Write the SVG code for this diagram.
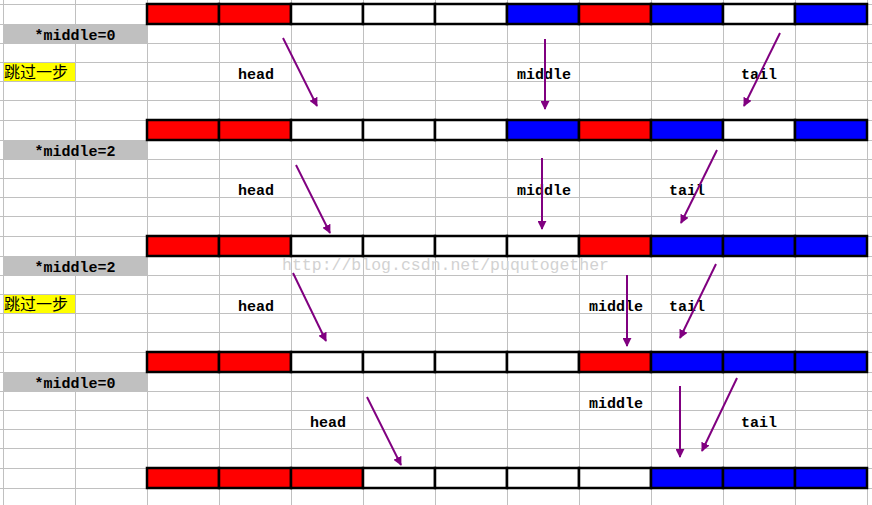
<svg xmlns="http://www.w3.org/2000/svg" width="872" height="505" viewBox="0 0 872 505">
<style>
.g{stroke:#c0c0c0;stroke-width:1}
.c{stroke:#000;stroke-width:2.5}
.r{fill:#ff0000}.b{fill:#0000ff}.w{fill:#fff}
.t{font-family:"Liberation Mono",monospace;font-weight:bold;font-size:15px;fill:#000;text-anchor:middle}
.lab{fill:#c0c0c0}
.y{fill:#ffff00}
.cjk{font-family:"Noto Sans CJK SC",sans-serif;font-size:16px;fill:#000}
.a{stroke:#800080;stroke-width:2;fill:none;marker-end:url(#ah)}
.wm{font-family:"Liberation Mono",monospace;font-size:16.5px;fill:#d2d2d2}
</style>
<defs>
<marker id="ah" viewBox="0 0 10 10" refX="9" refY="5" markerWidth="4.5" markerHeight="4.5" orient="auto" markerUnits="strokeWidth">
<path d="M0,0 L10,5 L0,10 z" fill="#800080"/>
</marker>
</defs>
<rect width="872" height="505" fill="#fff"/>
<g id="grid">
<path class="g" d="M3.5,0V505M75.5,0V505M147.5,0V505M219.5,0V505M291.5,0V505M363.5,0V505M435.5,0V505M507.5,0V505M579.5,0V505M651.5,0V505M723.5,0V505M795.5,0V505M867.5,0V505"/>
<path class="g" d="M0,4.5H872M0,24.5H872M0,43.5H872M0,62.5H872M0,81.5H872M0,100.5H872M0,120.5H872M0,140.5H872M0,159.5H872M0,178.5H872M0,197.5H872M0,216.5H872M0,236.5H872M0,256.5H872M0,275.5H872M0,294.5H872M0,313.5H872M0,332.5H872M0,352.5H872M0,372.5H872M0,391.5H872M0,410.5H872M0,429.5H872M0,448.5H872M0,468.5H872M0,488.5H872"/>
</g>
<g id="labels">
<rect class="lab" x="4" y="25" width="143" height="18"/>
<text class="t" x="75" y="40">*middle=0</text>
<rect class="y" x="4" y="63" width="71" height="18"/>
<text class="cjk" x="4" y="78">跳过一步</text>
<rect class="lab" x="4" y="141" width="143" height="18"/>
<text class="t" x="75" y="156">*middle=2</text>
<rect class="lab" x="4" y="257" width="143" height="18"/>
<text class="t" x="75" y="272">*middle=2</text>
<rect class="y" x="4" y="295" width="71" height="18"/>
<text class="cjk" x="4" y="310">跳过一步</text>
<rect class="lab" x="4" y="373" width="143" height="18"/>
<text class="t" x="75" y="388">*middle=0</text>
</g>
<g id="row1">
<rect class="c r" x="147" y="4" width="72" height="20"/><rect class="c r" x="219" y="4" width="72" height="20"/><rect class="c w" x="291" y="4" width="72" height="20"/><rect class="c w" x="363" y="4" width="72" height="20"/><rect class="c w" x="435" y="4" width="72" height="20"/><rect class="c b" x="507" y="4" width="72" height="20"/><rect class="c r" x="579" y="4" width="72" height="20"/><rect class="c b" x="651" y="4" width="72" height="20"/><rect class="c w" x="723" y="4" width="72" height="20"/><rect class="c b" x="795" y="4" width="72" height="20"/>
</g>
<g id="row2">
<rect class="c r" x="147" y="120" width="72" height="20"/><rect class="c r" x="219" y="120" width="72" height="20"/><rect class="c w" x="291" y="120" width="72" height="20"/><rect class="c w" x="363" y="120" width="72" height="20"/><rect class="c w" x="435" y="120" width="72" height="20"/><rect class="c b" x="507" y="120" width="72" height="20"/><rect class="c r" x="579" y="120" width="72" height="20"/><rect class="c b" x="651" y="120" width="72" height="20"/><rect class="c w" x="723" y="120" width="72" height="20"/><rect class="c b" x="795" y="120" width="72" height="20"/>
</g>
<g id="row3">
<rect class="c r" x="147" y="236" width="72" height="20"/><rect class="c r" x="219" y="236" width="72" height="20"/><rect class="c w" x="291" y="236" width="72" height="20"/><rect class="c w" x="363" y="236" width="72" height="20"/><rect class="c w" x="435" y="236" width="72" height="20"/><rect class="c w" x="507" y="236" width="72" height="20"/><rect class="c r" x="579" y="236" width="72" height="20"/><rect class="c b" x="651" y="236" width="72" height="20"/><rect class="c b" x="723" y="236" width="72" height="20"/><rect class="c b" x="795" y="236" width="72" height="20"/>
</g>
<g id="row4">
<rect class="c r" x="147" y="352" width="72" height="20"/><rect class="c r" x="219" y="352" width="72" height="20"/><rect class="c w" x="291" y="352" width="72" height="20"/><rect class="c w" x="363" y="352" width="72" height="20"/><rect class="c w" x="435" y="352" width="72" height="20"/><rect class="c w" x="507" y="352" width="72" height="20"/><rect class="c r" x="579" y="352" width="72" height="20"/><rect class="c b" x="651" y="352" width="72" height="20"/><rect class="c b" x="723" y="352" width="72" height="20"/><rect class="c b" x="795" y="352" width="72" height="20"/>
</g>
<g id="row5">
<rect class="c r" x="147" y="468" width="72" height="20"/><rect class="c r" x="219" y="468" width="72" height="20"/><rect class="c r" x="291" y="468" width="72" height="20"/><rect class="c w" x="363" y="468" width="72" height="20"/><rect class="c w" x="435" y="468" width="72" height="20"/><rect class="c w" x="507" y="468" width="72" height="20"/><rect class="c w" x="579" y="468" width="72" height="20"/><rect class="c b" x="651" y="468" width="72" height="20"/><rect class="c b" x="723" y="468" width="72" height="20"/><rect class="c b" x="795" y="468" width="72" height="20"/>
</g>
<text class="wm" x="282" y="270" textLength="327" lengthAdjust="spacingAndGlyphs">http://blog.csdn.net/puqutogether</text>
<g id="pointer-labels">
<text class="t" x="256" y="79">head</text>
<text class="t" x="544" y="79">middle</text>
<text class="t" x="759" y="79">tail</text>
<text class="t" x="256" y="195">head</text>
<text class="t" x="544" y="195">middle</text>
<text class="t" x="687" y="195">tail</text>
<text class="t" x="256" y="311">head</text>
<text class="t" x="616" y="311">middle</text>
<text class="t" x="687" y="311">tail</text>
<text class="t" x="328" y="427">head</text>
<text class="t" x="616" y="408">middle</text>
<text class="t" x="759" y="427">tail</text>
</g>
<g id="connectors">
<line class="a" x1="283" y1="38" x2="317" y2="106"/>
<line class="a" x1="545" y1="39" x2="545" y2="109"/>
<line class="a" x1="780" y1="33" x2="744" y2="106"/>
<line class="a" x1="296" y1="165" x2="330" y2="233"/>
<line class="a" x1="542" y1="158" x2="542" y2="229"/>
<line class="a" x1="717" y1="150" x2="681" y2="223"/>
<line class="a" x1="293" y1="273" x2="326" y2="341"/>
<line class="a" x1="627" y1="275" x2="627" y2="346"/>
<line class="a" x1="716" y1="264" x2="680" y2="338"/>
<line class="a" x1="367" y1="397" x2="401" y2="465"/>
<line class="a" x1="680" y1="386" x2="680" y2="457"/>
<line class="a" x1="737" y1="378" x2="702" y2="451"/>
</g>
</svg>
